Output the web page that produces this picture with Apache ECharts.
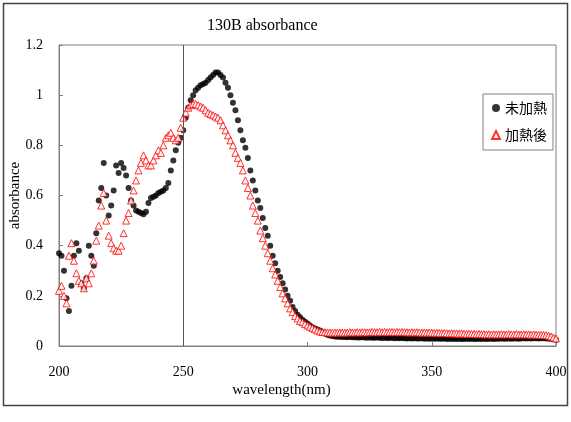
<!DOCTYPE html>
<html>
<head>
<meta charset="utf-8">
<script src="https://cdn.jsdelivr.net/npm/echarts@6/dist/echarts.min.js"></script>
<style>html,body{margin:0;padding:0;background:#fff}#c{width:571px;height:422px}</style>
</head>
<body>
<div id="c"></div>
<script>
const titleText = '130B absorbance';
const xName = 'wavelength(nm)';
const yName = 'absorbance';
const seriesNames = ['未加熱', '加熱後'];
const markWavelength = 250;
const xTicks = [200, 250, 300, 350, 400];
const yTicks = [0, 0.2, 0.4, 0.6, 0.8, 1, 1.2];
const wlStart = 200, wlStep = 1;

// 未加熱 (unheated), one value per nm from 200 to 400
const unheated = [
0.37,0.36,0.30,0.19,0.14,0.24,0.36,0.41,0.38,0.25,
0.23,0.27,0.40,0.36,0.32,0.45,0.58,0.63,0.73,0.60,
0.52,0.56,0.62,0.72,0.69,0.73,0.71,0.68,0.63,0.58,
0.56,0.54,0.535,0.53,0.525,0.535,0.57,0.59,0.595,0.60,
0.61,0.615,0.62,0.63,0.65,0.70,0.74,0.78,0.81,0.83,
0.86,0.91,0.95,0.98,1.00,1.02,1.03,1.04,1.045,1.05,
1.06,1.07,1.08,1.09,1.09,1.08,1.07,1.05,1.03,1.00,
0.97,0.94,0.90,0.86,0.82,0.79,0.75,0.70,0.66,0.62,
0.58,0.55,0.51,0.47,0.44,0.40,0.36,0.33,0.30,0.275,
0.25,0.225,0.20,0.18,0.155,0.14,0.125,0.115,0.105,0.097,
0.09,0.082,0.075,0.07,0.066,0.062,0.055,0.05,0.045,0.042,
0.040,0.038,0.037,0.037,0.036,0.036,0.035,0.036,0.035,0.035,
0.034,0.034,0.035,0.034,0.033,0.034,0.033,0.033,0.034,0.033,
0.032,0.033,0.032,0.032,0.033,0.031,0.032,0.031,0.032,0.031,
0.030,0.031,0.030,0.031,0.030,0.030,0.031,0.029,0.030,0.029,
0.030,0.029,0.030,0.029,0.029,0.030,0.028,0.029,0.028,0.029,
0.028,0.029,0.028,0.028,0.029,0.028,0.029,0.028,0.028,0.029,
0.028,0.029,0.028,0.029,0.029,0.028,0.029,0.029,0.030,0.029,
0.029,0.030,0.029,0.030,0.030,0.029,0.030,0.031,0.030,0.031,
0.030,0.031,0.031,0.030,0.031,0.031,0.030,0.030,0.029,0.027,
0.025
];

// 加熱後 (after heating), one value per nm from 200 to 400
const heated = [
0.22,0.24,0.20,0.17,0.36,0.41,0.34,0.29,0.26,0.25,
0.23,0.27,0.25,0.29,0.34,0.42,0.48,0.56,0.61,0.50,
0.44,0.41,0.39,0.38,0.38,0.40,0.45,0.50,0.53,0.58,
0.62,0.66,0.70,0.73,0.76,0.74,0.72,0.72,0.74,0.76,
0.78,0.77,0.80,0.83,0.84,0.85,0.83,0.82,0.83,0.87,
0.91,0.93,0.95,0.96,0.965,0.965,0.96,0.955,0.95,0.94,
0.93,0.925,0.92,0.915,0.91,0.90,0.88,0.86,0.84,0.82,
0.80,0.77,0.75,0.73,0.70,0.66,0.63,0.60,0.56,0.53,
0.50,0.46,0.43,0.40,0.37,0.34,0.31,0.285,0.26,0.235,
0.21,0.19,0.17,0.15,0.135,0.12,0.11,0.10,0.095,0.088,
0.082,0.077,0.072,0.067,0.062,0.058,0.056,0.055,0.054,0.054,
0.053,0.054,0.053,0.054,0.054,0.053,0.054,0.055,0.054,0.054,
0.055,0.054,0.055,0.055,0.054,0.055,0.056,0.055,0.055,0.056,
0.055,0.056,0.055,0.056,0.056,0.055,0.056,0.055,0.056,0.055,
0.055,0.054,0.055,0.054,0.055,0.054,0.053,0.054,0.053,0.054,
0.053,0.052,0.053,0.052,0.051,0.052,0.051,0.050,0.051,0.050,
0.050,0.049,0.050,0.049,0.048,0.049,0.048,0.048,0.047,0.048,
0.047,0.047,0.046,0.047,0.046,0.047,0.046,0.046,0.047,0.046,
0.046,0.047,0.046,0.046,0.047,0.046,0.046,0.047,0.046,0.046,
0.045,0.046,0.045,0.045,0.044,0.044,0.043,0.041,0.038,0.034,
0.030
];

const pairs = arr => arr.map((v, i) => [wlStart + i * wlStep, v]);
const serif = '"Liberation Serif", "Times New Roman", serif';
const cjk = '"Noto Sans CJK TC", "Noto Sans CJK SC", sans-serif';

const chart = echarts.init(document.getElementById('c'), null, {renderer: 'canvas'});
chart.setOption({
  animation: false,
  backgroundColor: '#fff',
  title: {
    text: titleText, left: 207, top: 18, padding: 0,
    textStyle: {fontFamily: serif, fontSize: 16, fontWeight: 'normal', color: '#000'}
  },
  graphic: [{
    type: 'rect', shape: {x: 3.5, y: 3.5, width: 564, height: 402},
    style: {fill: 'none', stroke: '#444', lineWidth: 1.5}, silent: true, z: 100
  }],
  grid: {left: 59, right: 15, top: 45, bottom: 76, outerBoundsMode: 'none', containLabel: false,
    show: true, borderColor: '#808080', borderWidth: 1},
  legend: {
    orient: 'vertical', left: 483, top: 94,
    padding: [7, 6, 8, 8], itemGap: 13, itemWidth: 8, itemHeight: 8,
    borderColor: '#808080', borderWidth: 1,
    textStyle: {fontFamily: cjk, fontSize: 14, color: '#000'},
    data: [{name: seriesNames[0], icon: 'circle'}, {name: seriesNames[1], icon: 'triangle'}]
  },
  xAxis: {
    type: 'value', min: xTicks[0], max: xTicks[xTicks.length - 1], interval: 50,
    name: xName, nameLocation: 'middle', nameGap: 37, nameMoveOverlap: false,
    nameTextStyle: {fontFamily: serif, fontSize: 15, color: '#000', padding: [0, 52, 0, 0]},
    axisLine: {lineStyle: {color: '#808080'}},
    axisTick: {inside: true, length: 4, lineStyle: {color: '#808080'}},
    axisLabel: {fontFamily: serif, fontSize: 14, color: '#000', margin: 19},
    splitLine: {show: false}
  },
  yAxis: {
    type: 'value', min: yTicks[0], max: yTicks[yTicks.length - 1], interval: 0.2,
    name: yName, nameLocation: 'middle', nameGap: 36, nameRotate: 90, nameMoveOverlap: false,
    nameTextStyle: {fontFamily: serif, fontSize: 15, color: '#000'},
    axisLine: {show: true, lineStyle: {color: '#808080'}},
    axisTick: {show: true, inside: true, length: 4, lineStyle: {color: '#808080'}},
    axisLabel: {fontFamily: serif, fontSize: 14, color: '#000', margin: 16,
      formatter: v => String(Math.round(v * 10) / 10)},
    splitLine: {show: false}
  },
  series: [
    {
      name: seriesNames[0], type: 'scatter', data: pairs(unheated),
      symbol: 'circle', symbolSize: 6,
      itemStyle: {color: '#000'},
      markLine: {
        silent: true, symbol: 'none', label: {show: false},
        lineStyle: {color: '#555', width: 1, type: 'solid'},
        data: [{xAxis: markWavelength}]
      },
      z: 2
    },
    {
      name: seriesNames[1], type: 'scatter', data: pairs(heated),
      symbol: 'triangle', symbolSize: 7,
      itemStyle: {color: '#fff', borderColor: '#ff0000', borderWidth: 1},
      z: 3
    }
  ]
});
</script>
</body>
</html>
